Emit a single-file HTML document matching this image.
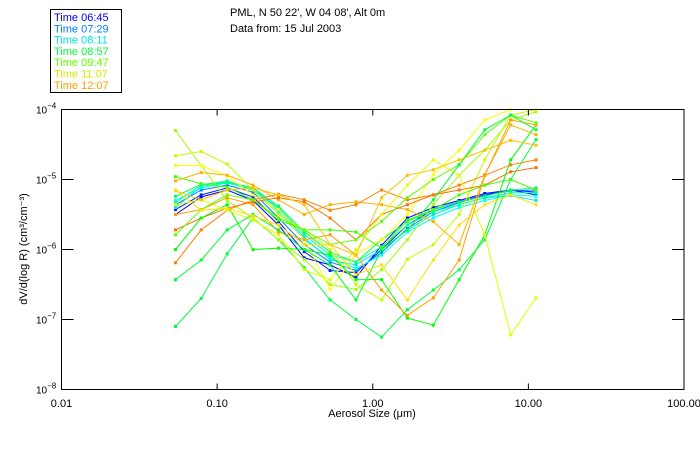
<!DOCTYPE html>
<html><head><meta charset="utf-8"><style>
body{margin:0;background:#fff;}
svg{display:block;font-family:"Liberation Sans",sans-serif;}
</style></head><body>
<svg id="chart" width="700" height="450" viewBox="0 0 700 450" xmlns="http://www.w3.org/2000/svg">
<rect x="0" y="0" width="700" height="450" fill="#fff"/>
<g font-size="11" fill="#000">
<text x="230" y="16">PML, N 50 22', W 04 08', Alt 0m</text>
<text x="230" y="32">Data from: 15 Jul 2003</text>
</g>
<g>
<rect x="50.5" y="9.5" width="71" height="83" fill="#fff" stroke="#000"/>
<g id="legend-items" font-size="11"></g>
</g>
<g id="plot"></g>
<g id="axes"></g>
<text x="372" y="417" text-anchor="middle" font-size="11">Aerosol Size (μm)</text>
<text transform="translate(27,249) rotate(-90)" text-anchor="middle" font-size="11">dV/d(log R) (cm³/cm⁻³)</text>
</svg>
<script>
const legendLabels = ["Time 06:45","Time 07:29","Time 08:11","Time 08:57","Time 09:47","Time 11:07","Time 12:07"];
const legendColors = ["#0000ff","#0080ff","#00e0e0","#00ff40","#60ff00","#d0f000","#ffa000"];
const xTickValues = [0.01,0.1,1,10,100];
const xTickLabels = ["0.01","0.10","1.00","10.00","100.00"];
const yTickExp = [-4,-5,-6,-7,-8];
const sizes = [0.054,0.079,0.116,0.170,0.248,0.363,0.532,0.78,1.14,1.67,2.45,3.59,5.25,7.7,11.2];
// log10 of dV/dlogR per series
const seriesColors = ["#0000ff","#0020ff","#0080ff","#00ffff","#00e8e8","#00ffa0","#00ff60",
 "#00ff40","#a0ff00","#c0ff00","#ffff00","#ffb000","#ff8000","#ff7000","#40ff00","#00ff00","#e0ff00","#ffa000","#60ff00","#00ff30","#ffc000","#ffe000"];
const s0=[-5.5,-5.25,-5.15,-5.3,-5.65,-6.12,-6.22,-6.4,-5.94,-5.55,-5.4,-5.3,-5.2,-5.15,-5.22];
const s1=[-5.43,-5.22,-5.12,-5.25,-5.6,-6.03,-6.3,-6.33,-6.0,-5.65,-5.43,-5.32,-5.22,-5.15,-5.18];
const s2=[-5.36,-5.15,-5.08,-5.18,-5.55,-5.93,-6.18,-6.3,-6.04,-5.7,-5.46,-5.33,-5.23,-5.16,-5.15];
const s3=[-5.3,-5.12,-5.05,-5.15,-5.46,-5.86,-6.12,-6.27,-6.08,-5.75,-5.55,-5.4,-5.3,-5.22,-5.24];
const s4=[-5.4,-5.1,-5.04,-5.12,-5.43,-5.83,-6.15,-6.22,-6.0,-5.72,-5.5,-5.36,-5.26,-5.23,-5.3];
const s5=[-5.33,-5.08,-5.02,-5.15,-5.4,-5.79,-6.08,-6.18,-5.96,-5.65,-5.46,-5.36,-5.26,-5.19,-5.19];
const s6=[-5.24,-5.07,-5.04,-5.12,-5.38,-5.75,-6.04,-6.18,-5.86,-5.6,-5.43,-5.32,-5.24,-5.15,-5.12];
const s7=[-7.1,-6.7,-6.06,-5.55,-5.86,-6.26,-6.72,-7.0,-7.25,-6.86,-6.58,-6.29,-5.86,-5.0,-4.43];
const s8=[-4.3,-4.8,-5.3,-5.55,-5.86,-6.14,-6.5,-6.57,-6.29,-5.86,-5.36,-4.94,-4.58,-4.15,-4.03];
const s9=[-4.66,-4.6,-4.78,-5.15,-5.5,-5.72,-6.0,-6.5,-6.72,-6.14,-5.93,-5.5,-4.72,-4.08,-4.0];
const s10=[-4.8,-4.8,-4.95,-5.22,-5.43,-5.86,-6.57,-6.07,-5.86,-5.5,-4.93,-4.58,-4.15,-4.0,-4.0];
const s11=[-5.02,-4.9,-4.94,-5.08,-5.29,-5.5,-5.36,-5.32,-5.36,-5.43,-5.6,-5.93,-4.93,-4.22,-4.36];
const s12=[-6.19,-5.72,-5.44,-5.29,-5.21,-5.29,-5.44,-5.36,-5.15,-5.29,-5.22,-5.08,-4.94,-4.79,-4.72];
const s13=[-5.72,-5.55,-5.41,-5.32,-5.26,-5.32,-5.55,-5.86,-5.5,-5.36,-5.22,-5.15,-5.08,-4.89,-4.83];
const s14=[-4.96,-5.06,-5.11,-5.29,-5.58,-5.72,-5.72,-5.75,-5.98,-5.58,-5.43,-5.22,-5.08,-5.0,-5.15];
const s15=[-6.0,-5.55,-5.36,-6.0,-5.98,-6.0,-6.08,-6.43,-6.43,-6.98,-7.08,-6.43,-5.79,-4.72,-4.22];
const s16=[-5.36,-5.29,-5.44,-5.58,-5.79,-6.29,-6.43,-6.0,-5.5,-5.08,-4.72,-4.94,-5.79,-7.22,-6.69];
const s17=[-5.5,-5.43,-5.26,-5.36,-5.75,-5.86,-5.79,-6.08,-6.58,-6.94,-6.69,-6.15,-4.94,-4.15,-4.22];
const s18=[-5.79,-5.43,-5.22,-5.29,-5.55,-5.72,-5.93,-5.86,-5.6,-5.26,-5.0,-4.79,-4.36,-4.08,-4.19];
const s19=[-6.43,-6.15,-5.72,-5.5,-5.72,-6.0,-6.22,-6.72,-6.0,-5.72,-5.29,-4.79,-4.29,-4.08,-4.29];
const s20=[-5.16,-5.29,-5.15,-5.12,-5.22,-5.36,-5.93,-6.08,-5.26,-4.94,-4.86,-4.72,-4.58,-4.44,-4.51];
const s21=[-5.15,-5.44,-5.41,-5.52,-5.65,-5.93,-5.93,-6.36,-6.22,-6.72,-6.15,-5.65,-5.36,-5.22,-5.36];
const seriesLogs=[s0,s1,s2,s3,s4,s5,s6,s7,s8,s9,s10,s11,s12,s13,s14,s15,s16,s17,s18,s19,s20,s21];

const NS="http://www.w3.org/2000/svg";
const L=61.5,R=684,T=109.5,B=389.5;
function xs(v){return L+(Math.log10(v)+2)/4*(R-L);}
function ys(lg){return T+(-4-lg)/4*(B-T);}
function mk(tag,attrs,parent){const e=document.createElementNS(NS,tag);for(const k in attrs)e.setAttribute(k,attrs[k]);parent.appendChild(e);return e;}

const leg=document.getElementById('legend-items');
legendLabels.forEach((lab,i)=>{
  const t=mk('text',{x:54,y:21+i*11.3,fill:legendColors[i]},leg);
  t.textContent=lab;
  
  
});

const plot=document.getElementById('plot');
seriesLogs.forEach((arr,si)=>{
  const g=mk('g',{},plot);
  
  
  const pts=arr.map((v,i)=>xs(sizes[i]).toFixed(1)+','+Math.max(T,ys(v)).toFixed(1)).join(' ');
  mk('polyline',{points:pts,fill:'none',stroke:seriesColors[si],'stroke-width':1},g);
  arr.forEach((v,i)=>{
    const y=ys(v); if(y<T) return;
    const r=mk('rect',{x:xs(sizes[i])-1.5,y:y-1.5,width:3,height:3,fill:seriesColors[si]},g);
    
    
  });
});

const ax=document.getElementById('axes');
mk('rect',{x:L,y:T,width:R-L,height:B-T,fill:'none',stroke:'#000','stroke-width':1},ax);
xTickValues.forEach((v,i)=>{
  const x=xs(v);
  mk('line',{x1:x,y1:B,x2:x,y2:B-6,stroke:'#000'},ax);
  mk('line',{x1:x,y1:T,x2:x,y2:T+6,stroke:'#000'},ax);
  const t=mk('text',{x:x,y:407,'text-anchor':'middle','font-size':11},ax);
  t.textContent=xTickLabels[i];
  
  
});
yTickExp.forEach((e)=>{
  const y=ys(e);
  mk('line',{x1:L,y1:y,x2:L+12,y2:y,stroke:'#000'},ax);
  mk('line',{x1:R,y1:y,x2:R-12,y2:y,stroke:'#000'},ax);
  const t=mk('text',{x:36,y:y+4,'font-size':10},ax);
  t.textContent='10';
  const s=mk('tspan',{dy:-5,'font-size':8},t);
  s.textContent='−'+(-e);
  
  
});
</script>
</body></html>
